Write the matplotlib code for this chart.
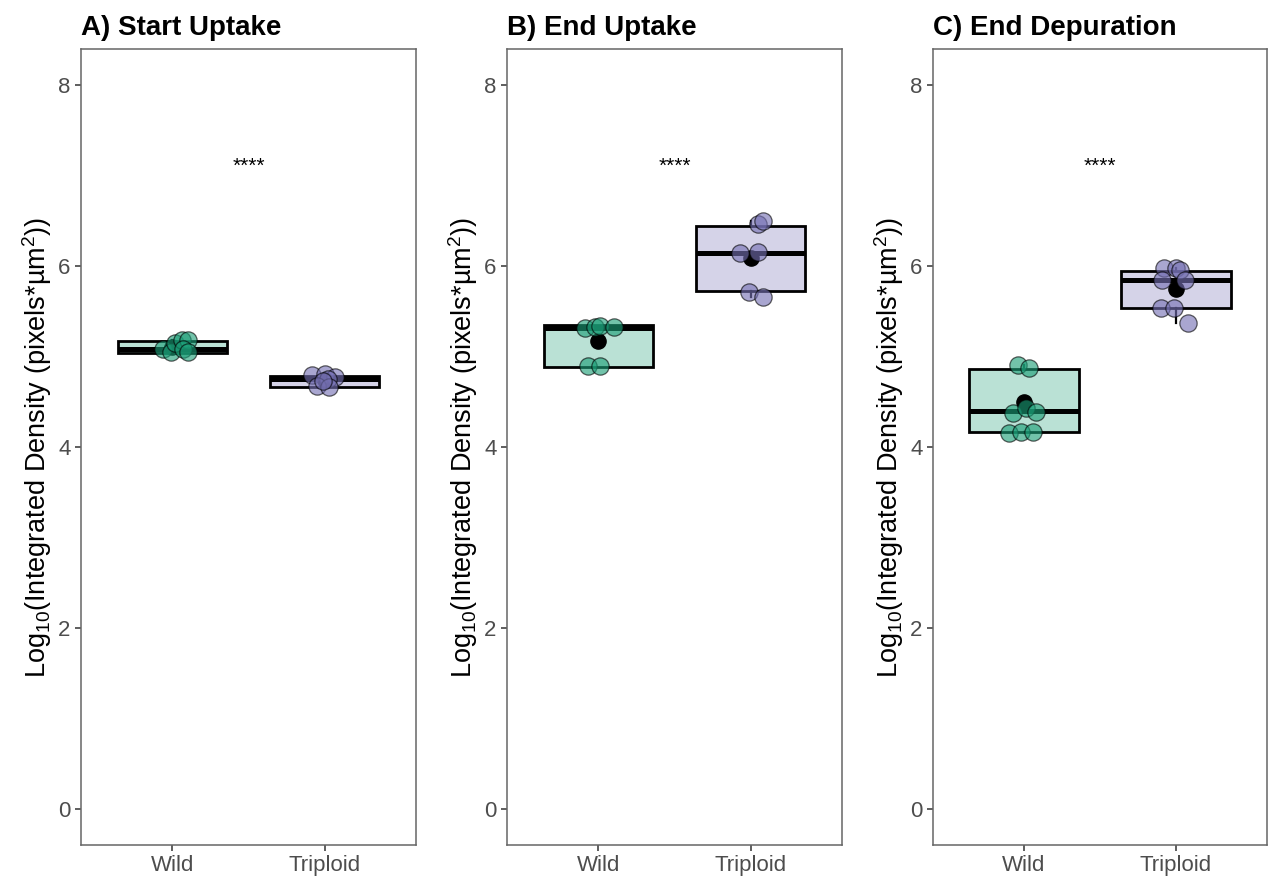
import numpy as np
import matplotlib
matplotlib.use("Agg")
import matplotlib.pyplot as plt

plt.rcParams["font.family"] = ["Liberation Sans", "DejaVu Sans"]
plt.rcParams["mathtext.fontset"] = "custom"
plt.rcParams["mathtext.rm"] = "Liberation Sans"
plt.rcParams["mathtext.it"] = "Liberation Sans:italic"
plt.rcParams["mathtext.bf"] = "Liberation Sans:bold"

GROUPS = ["Wild", "Triploid"]
PANELS = ["A) Start Uptake", "B) End Uptake", "C) End Depuration"]
SIG_LABEL = "****"
SIG_Y = 7.1

# box summaries per panel, ordered [Wild, Triploid]
q1      = [[5.04, 4.66], [4.88, 5.72], [4.17, 5.54]]
medians = [[5.08, 4.75], [5.32, 6.15], [4.40, 5.85]]
q3      = [[5.17, 4.79], [5.35, 6.44], [4.86, 5.95]]
whislo  = [[5.04, 4.66], [4.88, 5.66], [4.15, 5.375]]
whishi  = [[5.18, 4.81], [5.35, 6.50], [4.91, 5.98]]
means   = [[5.11, 4.74], [5.17, 6.09], [4.50, 5.75]]

# per-sample values (log10 integrated density)
start_wild     = [5.08, 5.045, 5.155, 5.18, 5.18, 5.08, 5.05]
start_triploid = [4.80, 4.81, 4.77, 4.75, 4.67, 4.66, 4.73]
uptake_wild     = [5.32, 5.33, 5.34, 5.33, 4.89, 4.89]
uptake_triploid = [6.47, 6.50, 6.15, 6.16, 5.71, 5.66]
dep_wild     = [4.91, 4.87, 4.38, 4.43, 4.39, 4.16, 4.17, 4.17]
dep_triploid = [5.98, 5.98, 5.96, 5.85, 5.85, 5.54, 5.54, 5.375]

# horizontal jitter used for the points
start_wild_jit     = [-0.06, -0.01, 0.02, 0.06, 0.10, 0.07, 0.10]
start_triploid_jit = [-0.08, 0.00, 0.07, 0.02, -0.05, 0.03, -0.01]
uptake_wild_jit     = [-0.085, -0.02, 0.01, 0.10, -0.07, 0.01]
uptake_triploid_jit = [0.05, 0.08, -0.07, 0.05, -0.01, 0.08]
dep_wild_jit     = [-0.04, 0.03, -0.07, 0.01, 0.08, -0.10, -0.02, 0.06]
dep_triploid_jit = [-0.08, 0.00, 0.03, -0.09, 0.06, -0.10, -0.01, 0.08]

points = [
    [(start_wild, start_wild_jit), (start_triploid, start_triploid_jit)],
    [(uptake_wild, uptake_wild_jit), (uptake_triploid, uptake_triploid_jit)],
    [(dep_wild, dep_wild_jit), (dep_triploid, dep_triploid_jit)],
]

COLORS = ["#1b9e77", "#7570b3"]

fig = plt.figure(figsize=(12.68, 8.8), dpi=100)
W, H = 1268, 880
lefts = [81, 507, 933]
widths = [335, 335, 334]
top, bottom = 49, 845

for i, title in enumerate(PANELS):
    ax = fig.add_axes([lefts[i] / W, (H - bottom) / H, widths[i] / W, (bottom - top) / H])
    stats = []
    for g in range(2):
        stats.append(dict(med=medians[i][g], q1=q1[i][g], q3=q3[i][g],
                          whislo=whislo[i][g], whishi=whishi[i][g], fliers=[]))
    bp = ax.bxp(stats, positions=[1, 2], widths=0.72, patch_artist=True,
                showcaps=False, showfliers=False,
                boxprops=dict(linewidth=2.0, edgecolor="black"),
                medianprops=dict(linewidth=3.6, color="black", solid_capstyle="butt"),
                whiskerprops=dict(linewidth=1.6, color="black"))
    for patch, c in zip(bp["boxes"], COLORS):
        patch.set_facecolor(matplotlib.colors.to_rgba(c, 0.3))
        patch.set_edgecolor("black")

    # group means sit underneath the semi-transparent points
    ax.scatter([1, 2], means[i], s=120, color="black", zorder=3)
    for g in range(2):
        vals, jit = points[i][g]
        ax.scatter(np.array(jit) + g + 1, vals, s=155, color=COLORS[g], alpha=0.62,
                   edgecolors="black", linewidths=0.9, zorder=4)

    ax.text(1.5, SIG_Y, SIG_LABEL, ha="center", va="center", fontsize=15)

    ax.set_xlim(0.4, 2.6)
    ax.set_ylim(-0.4, 8.4)
    ax.set_xticks([1, 2])
    ax.set_xticklabels(GROUPS)
    ax.set_yticks([0, 2, 4, 6, 8])
    ax.tick_params(labelsize=16, labelcolor="#4d4d4d", color="#333333",
                   length=4.5, width=1.1, pad=3)
    for sp in ax.spines.values():
        sp.set_color("#666666")
        sp.set_linewidth(1.1)
    ax.set_ylabel(r"Log$_{10}$(Integrated Density (pixels*µm$^{2}$))",
                  fontsize=19.5, labelpad=3)
    ax.set_title(title, loc="left", fontsize=20, fontweight="bold", pad=10)

fig.savefig("out.png", dpi=100)
